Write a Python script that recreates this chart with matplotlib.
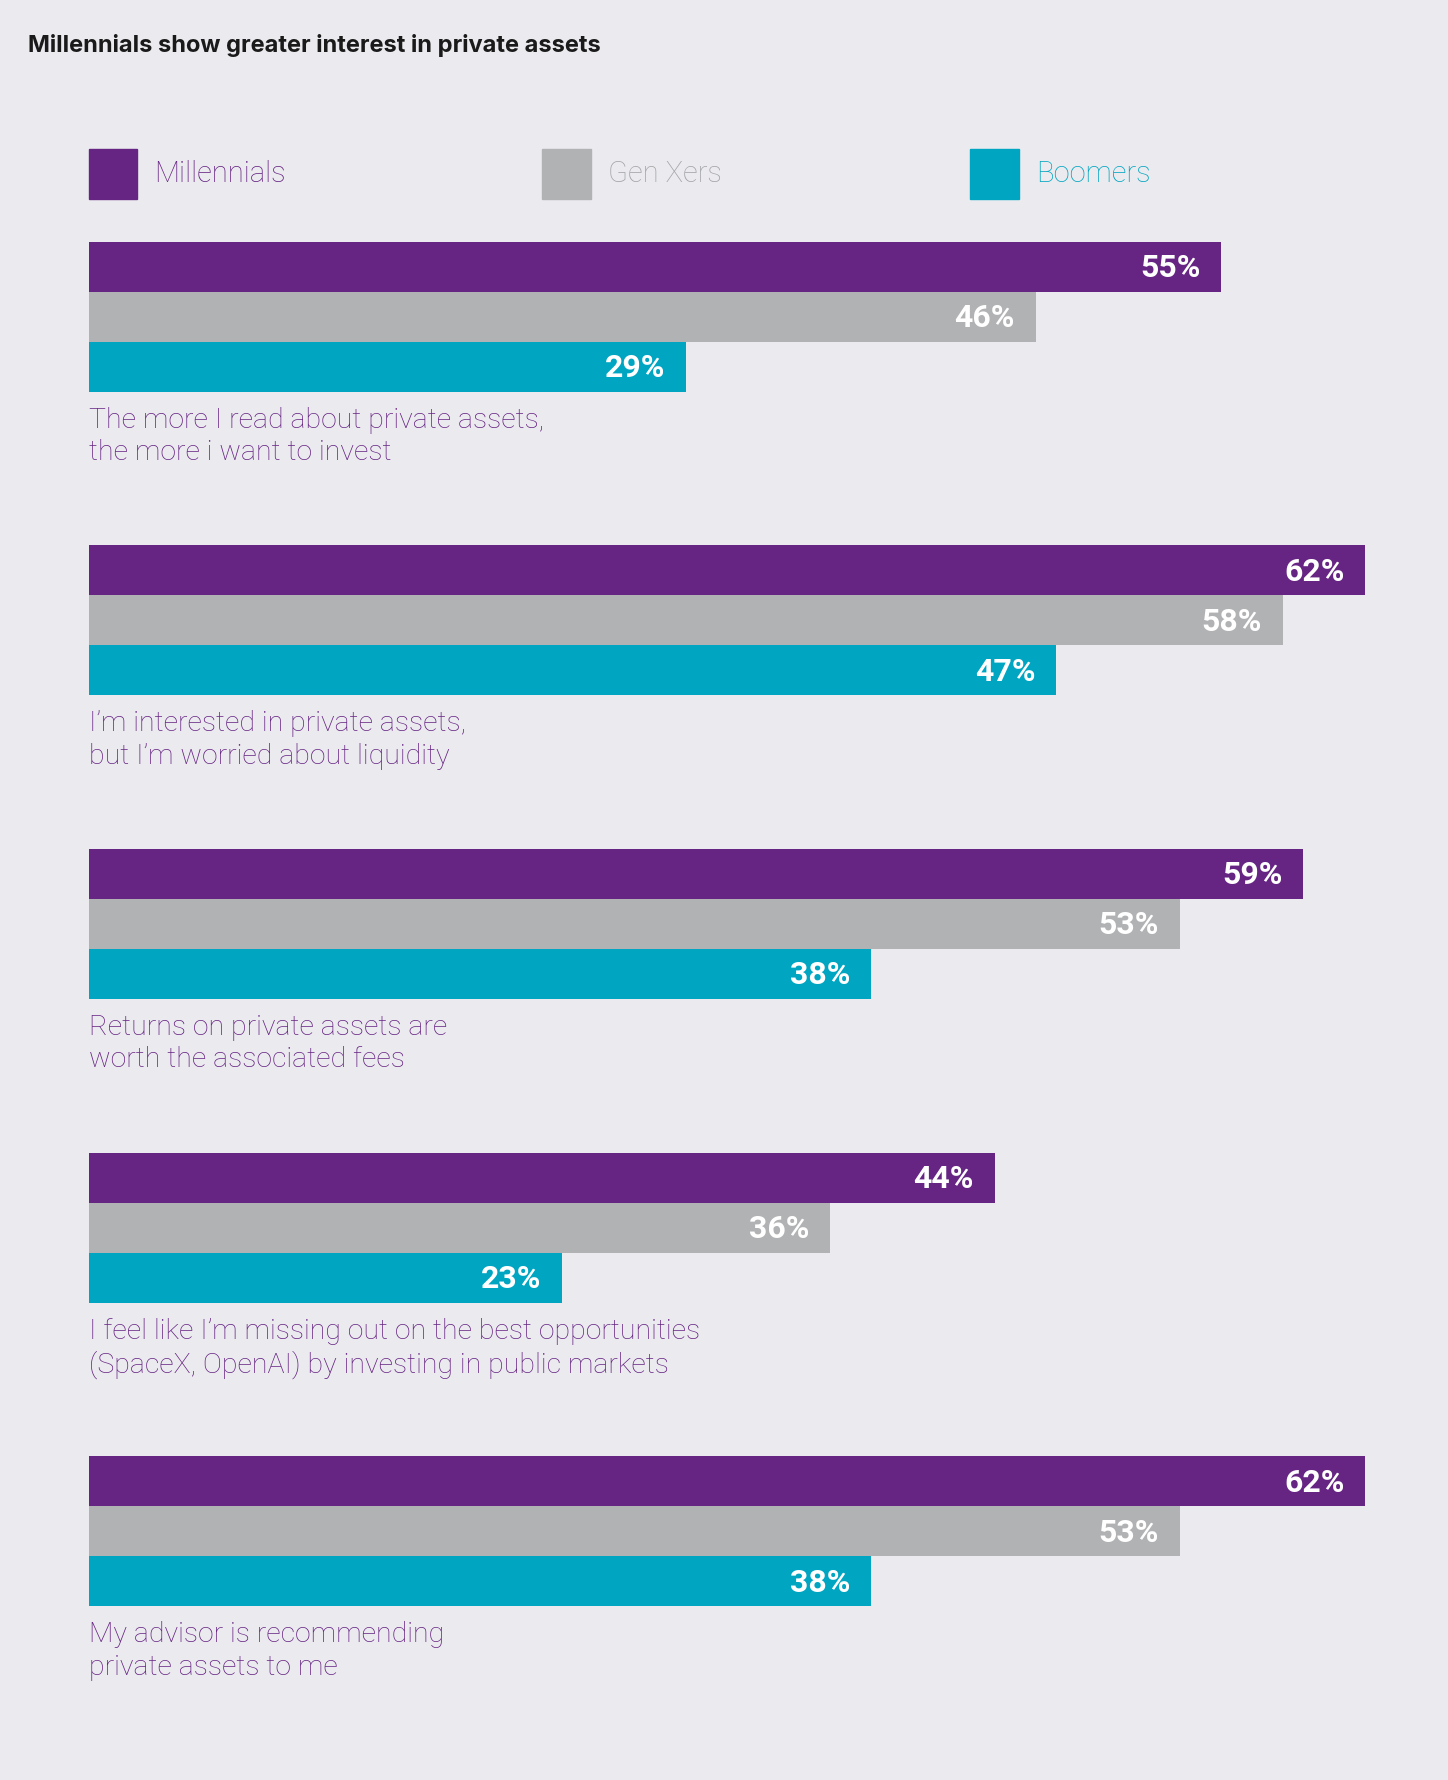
import matplotlib.pyplot as plt
import matplotlib.patches as mpatches

statements = [
    "The more I read about private assets,\nthe more i want to invest",
    "I\u2019m interested in private assets,\nbut I\u2019m worried about liquidity",
    "Returns on private assets are\nworth the associated fees",
    "I feel like I\u2019m missing out on the best opportunities\n(SpaceX, OpenAI) by investing in public markets",
    "My advisor is recommending\nprivate assets to me",
]
millennials = [55, 62, 59, 44, 62]
gen_xers = [46, 58, 53, 36, 53]
boomers = [29, 47, 38, 23, 38]
series_names = ["Millennials", "Gen Xers", "Boomers"]
colors = ["#662483", "#b1b2b4", "#00a5c1"]
text_colors = ["#662483", "#a3a4a6", "#00a5c1"]
bg = "#ebebef"

W, H = 1276, 1568  # layout reference grid
fig = plt.figure(figsize=(14.48, 17.80), dpi=100, facecolor=bg)
plt.rcParams['font.family'] = ['Roboto', 'DejaVu Sans']

def fx(x):
    return x / W

def fy(y):
    return 1 - y / H

gap = 6.08
ax = fig.add_axes([fx(78), fy(1415), 1125 / W, (1415 - 213) / H])
ax.set_facecolor(bg)
ax.set_xlim(0, 62)
ax.set_ylim(4 * gap + 3, 0)
ax.axis("off")

for g, label in enumerate(statements):
    vals = [millennials[g], gen_xers[g], boomers[g]]
    for i, v in enumerate(vals):
        yc = g * gap + i + 0.5
        ax.barh(yc, v, height=1.0, color=colors[i])
        ax.annotate(f"{v}%", (v, yc), xytext=(-15, -1), textcoords="offset points",
                    ha="right", va="center", color="white", fontsize=23, fontweight="bold")
    ax.text(0, g * gap + 3.3, label, ha="left", va="top", color="#662483",
            fontsize=20.5, fontweight="light", linespacing=1.25)

fig.text(fx(25), fy(40), "Millennials show greater interest in private assets",
         fontsize=17, fontweight="bold", color="#1a1a1a", va="center", family=["Inter", "DejaVu Sans"])

for x0, name, c, tc in zip([78, 478, 855], series_names, colors, text_colors):
    fig.patches.append(mpatches.Rectangle((fx(x0), fy(175)), 43 / W, 44 / H,
                                          transform=fig.transFigure, color=c))
    fig.text(fx(x0 + 58), fy(153), name, fontsize=21, fontweight="light", color=tc, va="center")

fig.savefig("out.png", dpi=100, facecolor=bg)
